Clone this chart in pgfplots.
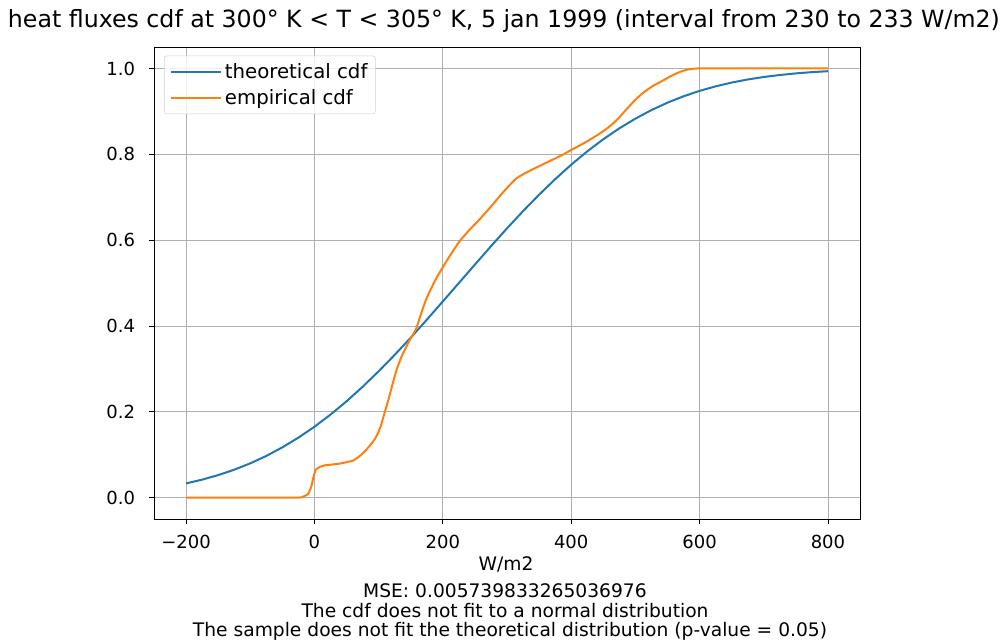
\documentclass[border=0pt]{standalone}
\usepackage{pgfplots}
\pgfplotsset{compat=1.18}
\usepackage{fontspec}
\setmainfont{DejaVu Sans}
\usepackage{graphicx}
\definecolor{mplblue}{HTML}{1F77B4}
\definecolor{mplorange}{HTML}{FF7F0E}
\definecolor{gridgray}{HTML}{B0B0B0}
\begin{document}
\begin{tikzpicture}[x=0.75pt,y=0.75pt]
\useasboundingbox (0,0) rectangle (1005,639);
\begin{axis}[
  at={(115.5pt,90pt)}, anchor=south west,
  scale only axis, width=529.5pt, height=354pt,
  xmin=-250, xmax=850, ymin=-0.05, ymax=1.05,
  xtick={-200,0,200,400,600,800},
  xticklabels={−200,0,200,400,600,800},
  ytick={0,0.2,0.4,0.6,0.8,1.0},
  yticklabels={0.0,0.2,0.4,0.6,0.8,1.0},
  tick align=outside, major tick length=3.75pt,
  tick style={black, line width=0.6pt},
  xtick pos=bottom, ytick pos=left,
  ticklabel style={font=\fontsize{13.5}{15}\selectfont},
  xticklabel shift=5pt, yticklabel shift=7pt,
  grid=major, major grid style={gridgray, line width=0.6pt},
  axis line style={black, line width=0.6pt},
  legend style={at={(0,1)}, anchor=north west, xshift=7.5pt, yshift=-6.5pt,
    draw=gray!35, rounded corners=2pt, fill=white, fill opacity=0.8, text opacity=1,
    font=\fontsize{14.8}{17}\selectfont, row sep=3pt, inner xsep=4pt, inner ysep=3.5pt},
  legend cell align=left,
  legend image code/.code={\draw[#1] (0pt,0pt) -- (31.5pt,0pt); \path (0pt,0pt) -- (38pt,0pt);},
]
\addplot[mplblue, line width=1.5pt] coordinates {
(-200,0.0329) (-175,0.0417) (-150,0.0523) (-125,0.0649) (-100,0.0797) (-75,0.0970)
(-50,0.1170) (-25,0.1396) (0,0.1650) (25,0.1933) (50,0.2243) (75,0.2581) (100,0.2942)
(125,0.3325) (150,0.3726) (175,0.4144) (200,0.4570) (225,0.5000) (250,0.5430) (275,0.5856)
(300,0.6274) (325,0.6675) (350,0.7058) (375,0.7419) (400,0.7757) (425,0.8067) (450,0.8350)
(475,0.8604) (500,0.8830) (525,0.9030) (550,0.9203) (575,0.9351) (600,0.9477) (625,0.9583)
(650,0.9671) (675,0.9743) (700,0.9801) (725,0.9847) (750,0.9885) (775,0.9914) (800,0.9936)
};
\addlegendentry{theoretical cdf}
\addplot[mplorange, line width=1.5pt, smooth, tension=0.3] coordinates {
(-200,0) (-100,0) (-25,0) (-18,0.002) (-10,0.008) (-5,0.025) (-2,0.045) (2,0.065) (8,0.071)
(16,0.075) (39,0.079) (60,0.086) (70,0.096) (80,0.11) (90,0.128) (96,0.141) (103,0.165)
(109,0.196) (116,0.232) (122,0.266) (128,0.298) (135,0.326) (142,0.348) (148,0.366) (158,0.392)
(166,0.428) (174,0.462) (187,0.503) (200,0.537) (213,0.568) (226,0.597) (241,0.623) (257,0.648)
(275,0.678) (293,0.71) (304,0.728) (314,0.743) (327,0.755) (340,0.765) (358,0.778) (376,0.791)
(388,0.800) (400,0.81) (420,0.826) (439,0.843) (452,0.856) (464,0.870) (475,0.886) (485,0.903)
(498,0.924) (511,0.942) (526,0.958) (542,0.971) (555,0.982) (568,0.991) (580,0.997) (589,0.999)
(600,1.0) (700,1.0) (800,1.0)
};
\addlegendentry{empirical cdf}
\end{axis}
\node[anchor=base, inner sep=0pt] at (504,611) {\resizebox{744pt}{!}{\fontsize{17.5}{20}\selectfont heat fluxes cdf at 300° K < T < 305° K, 5 jan 1999 (interval from 230 to 233 W/m2)}};
\node[anchor=base, inner sep=0pt, font=\fontsize{14}{16}\selectfont] at (506,69) {W/m2};
\node[anchor=base, inner sep=0pt, font=\fontsize{14}{16}\selectfont] at (505,42) {MSE: 0.005739833265036976};
\node[anchor=base, inner sep=0pt, font=\fontsize{14}{16}\selectfont] at (505,22) {The cdf does not fit to a normal distribution};
\node[anchor=base, inner sep=0pt, font=\fontsize{14}{16}\selectfont] at (510,3) {The sample does not fit the theoretical distribution (p-value = 0.05)};
\end{tikzpicture}
\end{document}
